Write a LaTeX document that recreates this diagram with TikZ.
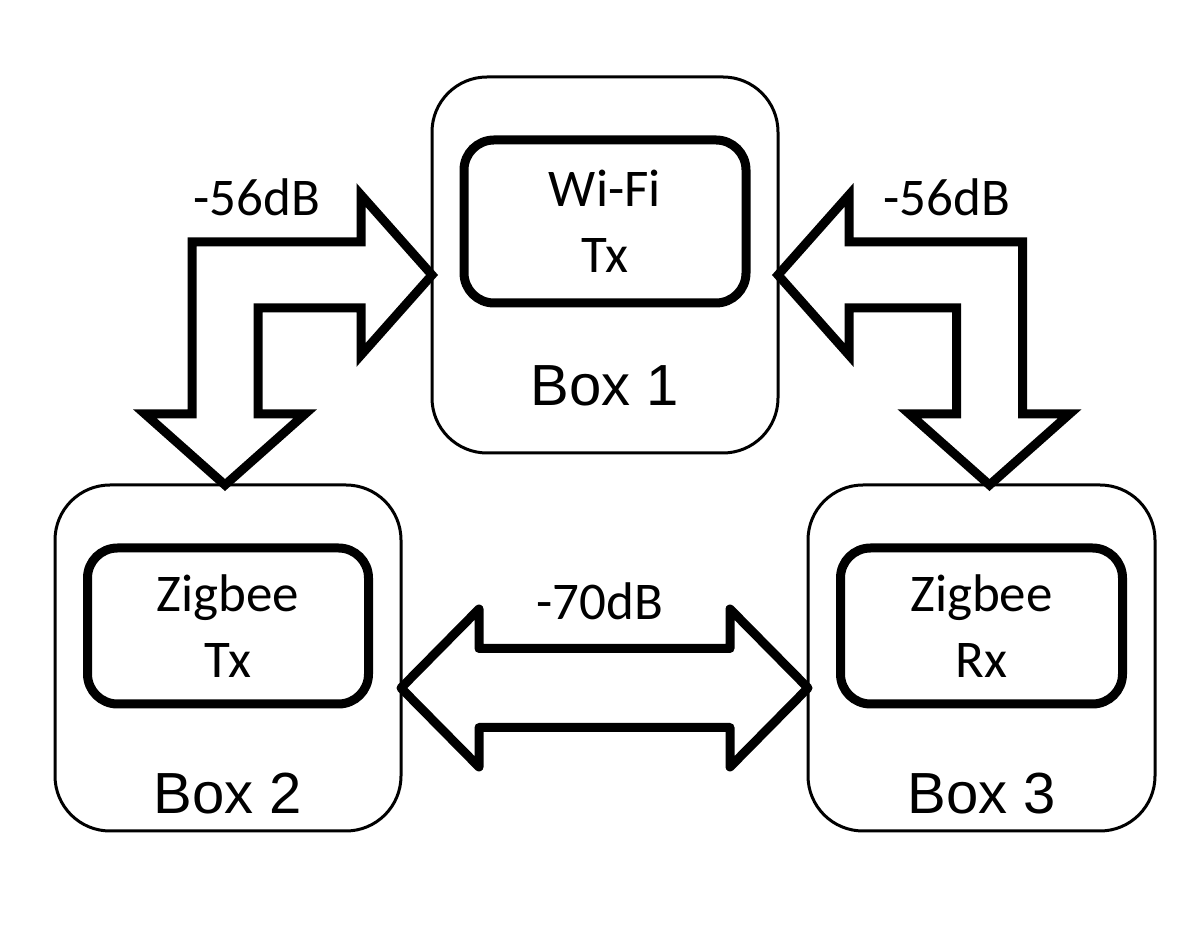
\documentclass[tikz,border=0pt]{standalone}
\usepackage{fontspec}
\setmainfont{Carlito}
\newfontfamily\boxfont{Liberation Sans}
\usetikzlibrary{positioning,calc}

\begin{document}
\begin{tikzpicture}[x=1pt, y=1pt,
	outer box/.style={shape=rectangle, draw, line width=3pt, rounded corners=55pt, outer sep=0pt},
	inner box/.style={shape=rectangle, draw, line width=9pt, rounded corners=30pt, outer sep=0pt, align=center, font=\fontsize{53}{66}\selectfont},
	box label/.style={font=\boxfont\fontsize{58}{60}\selectfont},
	db label/.style={font=\fontsize{53}{60}\selectfont},
	fat arrow/.style={draw, fill=white, line width=9pt}]
	\useasboundingbox (0,0) rectangle (1200,937);

	\node (box1) at (605,672) [outer box, minimum width=346pt, minimum height=376pt] {};
	\node (box2) at (228,279) [outer box, minimum width=346pt, minimum height=346pt] {};
	\node (box3) at (981.5,279) [outer box, minimum width=347pt, minimum height=346pt] {};

	\node (wifi) at ([yshift=-63pt]box1.north) [inner box, anchor=north, minimum width=282pt, minimum height=163pt] {Wi-Fi\\Tx};
	\node (zbtx) at ([yshift=-63pt]box2.north) [inner box, anchor=north, minimum width=281pt, minimum height=156pt] {Zigbee\\Tx};
	\node (zbrx) at ([yshift=-63pt]box3.north) [inner box, anchor=north, minimum width=282pt, minimum height=156pt] {Zigbee\\Rx};

	\node (lab1) at ([yshift=-309pt]box1.north) [box label] {Box 1};
	\node (lab2) at ([yshift=-309pt]box2.north) [box label] {Box 2};
	\node (lab3) at ([yshift=-309pt]box3.north) [box label] {Box 3};

	% arrow tips and elbows
	\coordinate (t1) at ([yshift=-10pt]box1.west);
	\coordinate (t2) at ([xshift=-3pt]box2.north);
	\coordinate (c1) at (t2 |- t1);
	\coordinate (t3) at ([yshift=-10pt]box1.east);
	\coordinate (t4) at ([xshift=8pt]box3.north);
	\coordinate (c2) at (t4 |- t3);
	\coordinate (t5) at ([yshift=-30pt]box2.east);
	\coordinate (t6) at ([yshift=-30pt]box3.west);

	\draw [fat arrow] (t1) -- ($(t1)+(-71,80)$) -- ($(t1)+(-71,33)$) -- ($(c1)+(-33,33)$) -- ($(t2)+(-33,71)$) -- ($(t2)+(-80,71)$) -- (t2)
		-- ($(t2)+(80,71)$) -- ($(t2)+(33,71)$) -- ($(c1)+(33,-33)$) -- ($(t1)+(-71,-33)$) -- ($(t1)+(-71,-80)$) -- cycle;
	\draw [fat arrow] (t3) -- ($(t3)+(71,80)$) -- ($(t3)+(71,33)$) -- ($(c2)+(33,33)$) -- ($(t4)+(33,71)$) -- ($(t4)+(80,71)$) -- (t4)
		-- ($(t4)+(-80,71)$) -- ($(t4)+(-33,71)$) -- ($(c2)+(-33,-33)$) -- ($(t3)+(71,-33)$) -- ($(t3)+(71,-80)$) -- cycle;
	\draw [fat arrow, line join=round] (t5) -- ($(t5)+(78,79)$) -- ($(t5)+(78,39.5)$) -- ($(t6)+(-78,39.5)$) -- ($(t6)+(-78,79)$) -- (t6)
		-- ($(t6)+(-78,-79)$) -- ($(t6)+(-78,-39.5)$) -- ($(t5)+(78,-39.5)$) -- ($(t5)+(78,-79)$) -- cycle;

	\node (db1) at (257,740) [db label] {-56dB};
	\node (db2) at (947,740) [db label] {-56dB};
	\node (db3) at (600,336) [db label] {-70dB};
\end{tikzpicture}
\end{document}
